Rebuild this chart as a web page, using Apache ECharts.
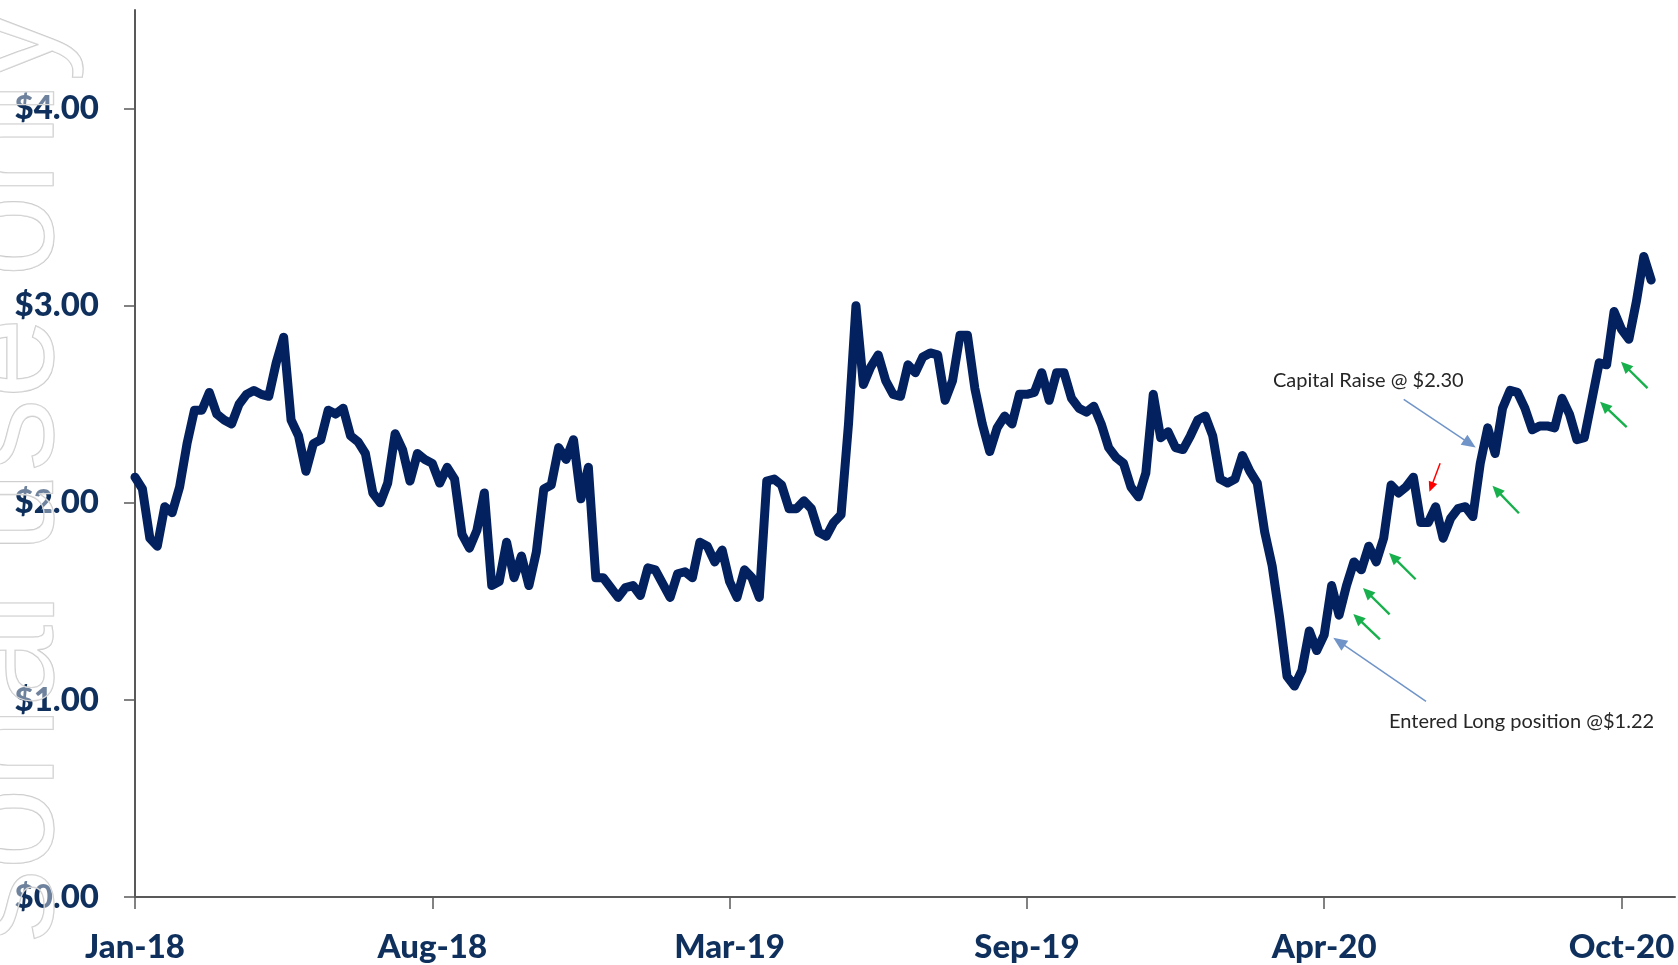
<!DOCTYPE html>
<html>
<head>
<meta charset="utf-8">
<style>
  html, body { margin: 0; padding: 0; background: #ffffff; }
  #chart { width: 1678px; height: 965px; }
</style>
<script src="https://cdn.jsdelivr.net/npm/echarts@6/dist/echarts.min.js"></script>
</head>
<body>
<div id="chart"></div>
<script>
// ---- data ----
const tickLabels = ['Jan-18', 'Aug-18', 'Mar-19', 'Sep-19', 'Apr-20', 'Oct-20'];
const pointsPerTick = 40;
const yTickValues = [0, 1, 2, 3, 4];
const priceValues = [
  2.13, 2.07, 1.82, 1.78, 1.98, 1.95, 2.08, 2.30, 2.47, 2.47,
  2.56, 2.45, 2.42, 2.40, 2.50, 2.55, 2.57, 2.55, 2.54, 2.71,
  2.84, 2.42, 2.34, 2.16, 2.30, 2.32, 2.47, 2.45, 2.48, 2.34,
  2.31, 2.25, 2.05, 2.00, 2.10, 2.35, 2.27, 2.11, 2.25, 2.22,
  2.20, 2.10, 2.18, 2.12, 1.84, 1.77, 1.86, 2.05, 1.58, 1.60,
  1.80, 1.62, 1.73, 1.58, 1.75, 2.07, 2.09, 2.28, 2.22, 2.32,
  2.02, 2.18, 1.62, 1.62, 1.57, 1.52, 1.57, 1.58, 1.53, 1.67,
  1.66, 1.59, 1.52, 1.64, 1.65, 1.62, 1.80, 1.78, 1.70, 1.76,
  1.60, 1.52, 1.66, 1.62, 1.52, 2.11, 2.12, 2.09, 1.97, 1.97,
  2.01, 1.97, 1.85, 1.83, 1.90, 1.94, 2.40, 3.00, 2.60, 2.69,
  2.75, 2.62, 2.55, 2.54, 2.70, 2.66, 2.74, 2.76, 2.75, 2.52,
  2.62, 2.85, 2.85, 2.58, 2.40, 2.26, 2.38, 2.44, 2.40, 2.55,
  2.55, 2.56, 2.66, 2.52, 2.66, 2.66, 2.53, 2.48, 2.46, 2.49,
  2.40, 2.28, 2.23, 2.20, 2.08, 2.03, 2.15, 2.55, 2.33, 2.36,
  2.28, 2.27, 2.34, 2.42, 2.44, 2.34, 2.12, 2.10, 2.12, 2.24,
  2.16, 2.10, 1.85, 1.68, 1.42, 1.12, 1.07, 1.15, 1.35, 1.25,
  1.33, 1.58, 1.43, 1.58, 1.70, 1.66, 1.78, 1.70, 1.82, 2.09,
  2.05, 2.08, 2.13, 1.90, 1.90, 1.98, 1.82, 1.92, 1.97, 1.98,
  1.93, 2.20, 2.38, 2.25, 2.48, 2.57, 2.56, 2.48, 2.37, 2.39,
  2.39, 2.38, 2.53, 2.45, 2.32, 2.33, 2.52, 2.71, 2.70, 2.97,
  2.88, 2.83, 3.02, 3.25, 3.13
];

// ---- annotation arrows (data coordinates: [index, price]) ----
const blue = '#7094C8', green = '#18B04C', red = '#FF0000';
function arrow(from, to, color, width, head) {
  return [
    { coord: from, symbol: 'none', lineStyle: { color: color, width: width, type: 'solid' } },
    { coord: to, symbol: 'triangle', symbolSize: head }
  ];
}
const arrows = [
  arrow([170.7, 2.525], [179.6, 2.30], blue, 1.5, [12, 14]),
  arrow([173.7, 0.993], [162.0, 1.295], blue, 1.5, [12, 14]),
  arrow([175.6, 2.20], [174.4, 2.08], red, 1.5, [9, 10]),
  arrow([167.5, 1.307], [164.5, 1.415], green, 2.4, [11, 12]),
  arrow([168.8, 1.434], [165.8, 1.546], green, 2.4, [11, 12]),
  arrow([172.3, 1.612], [169.3, 1.724], green, 2.4, [11, 12]),
  arrow([186.2, 1.947], [183.2, 2.064], green, 2.4, [11, 12]),
  arrow([200.7, 2.384], [197.7, 2.492], green, 2.4, [11, 12]),
  arrow([203.5, 2.582], [200.5, 2.694], green, 2.4, [11, 12])
];

const labelColor = '#0F305C';
const axisColor = '#595959';

const chart = echarts.init(document.getElementById('chart'), null, { renderer: 'canvas' });
chart.setOption({
  animation: false,
  backgroundColor: '#ffffff',
  grid: { left: 135, right: 3, top: 10, bottom: 68, containLabel: false, outerBoundsMode: 'none' },
  xAxis: {
    type: 'value',
    min: 0,
    max: 207.2,
    interval: pointsPerTick,
    splitLine: { show: false },
    axisLine: { show: true, onZero: false, lineStyle: { color: axisColor, width: 2 } },
    axisTick: { show: true, length: 12, lineStyle: { color: axisColor, width: 1.5 },
                customValues: tickLabels.map((_, i) => i * pointsPerTick) },
    axisLabel: {
      customValues: tickLabels.map((_, i) => i * pointsPerTick),
      formatter: v => tickLabels[Math.round(v / pointsPerTick)] || '',
      color: labelColor, fontFamily: 'Lato', fontWeight: 900, fontSize: 33, margin: 34
    }
  },
  yAxis: {
    type: 'value',
    min: 0,
    max: 4.5,
    interval: 1,
    splitLine: { show: false },
    axisLine: { show: true, lineStyle: { color: axisColor, width: 2 } },
    axisTick: { show: true, length: 11, lineStyle: { color: axisColor, width: 1.5 }, customValues: yTickValues },
    axisLabel: {
      customValues: yTickValues,
      formatter: v => '$' + v.toFixed(2),
      color: labelColor, fontFamily: 'Lato', fontWeight: 900, fontSize: 33, margin: 36
    }
  },
  series: [{
    type: 'line',
    data: priceValues.map((v, i) => [i, v]),
    showSymbol: false,
    silent: true,
    lineStyle: { color: '#03215F', width: 9, join: 'round', cap: 'round' },
    markLine: {
      silent: true,
      animation: false,
      label: { show: false },
      emphasis: { disabled: true },
      data: arrows
    }
  }],
  graphic: {
    elements: [
      {
        type: 'text', x: 1273, y: 381, z: 50,
        style: { text: 'Capital Raise @ $2.30', font: '20px Lato', fill: '#262626',
                 textAlign: 'left', textVerticalAlign: 'middle' }
      },
      {
        type: 'text', x: 1389, y: 722, z: 50,
        style: { text: 'Entered Long position @$1.22', font: '20px Lato', fill: '#262626',
                 textAlign: 'left', textVerticalAlign: 'middle' }
      },
      {
        type: 'text', x: 13, y: 9, rotation: Math.PI / 2, z: 100, silent: true,
        style: { text: 'For personal use only', font: '146px "Liberation Sans"',
                 fill: 'rgba(255,255,255,0.4)', stroke: '#c8c8c8', lineWidth: 1.3,
                 textAlign: 'right', textVerticalAlign: 'middle' }
      }
    ]
  }
});
</script>
</body>
</html>
